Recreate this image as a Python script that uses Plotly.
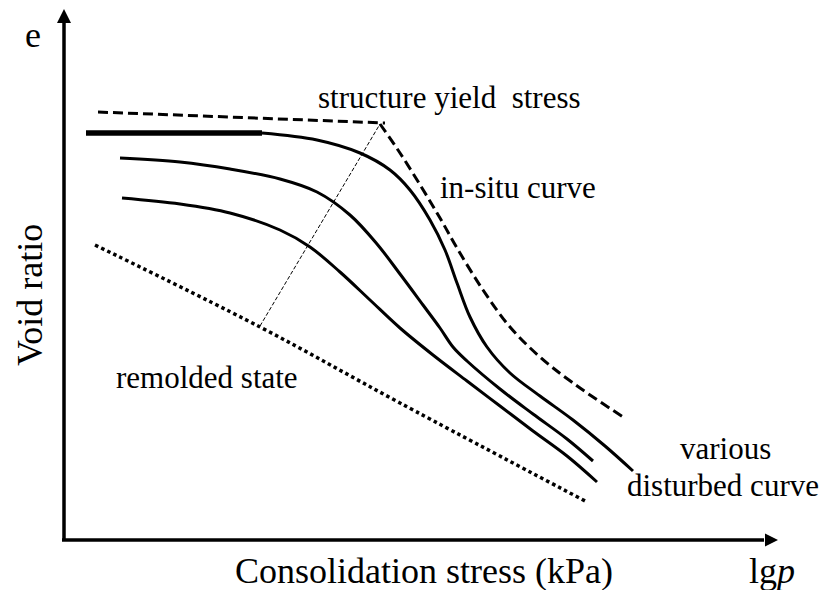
import plotly.graph_objects as go

# --- data (schematic units: x = lg p, y = void ratio e) ---
axis_y_x = [0, 0]
axis_y_y = [0, 5.2]
axis_x_x = [-0.02, 7.0]
axis_x_y = [0, 0]
arrow_up = (0, 5.31)
arrow_right = (7.14, 0)

struct_flat_x = [0.34, 3.21]
struct_flat_y = [4.28, 4.17]
struct_desc_x = [3.16, 3.36, 3.58, 3.76, 3.93, 4.19, 4.46, 4.76, 5.09, 5.59]
struct_desc_y = [4.16, 3.87, 3.52, 3.22, 2.92, 2.50, 2.13, 1.83, 1.57, 1.23]

insitu_thick_x = [0.22, 1.98]
insitu_thick_y = [4.07, 4.07]
insitu_x = [1.98, 2.53, 2.96, 3.26, 3.46, 3.66, 3.81, 3.93, 4.06, 4.23, 4.46, 4.76, 5.09, 5.41, 5.69]
insitu_y = [4.07, 4.00, 3.87, 3.70, 3.50, 3.20, 2.90, 2.57, 2.23, 1.93, 1.67, 1.44, 1.20, 0.94, 0.69]

dist1_x = [0.56, 1.16, 1.66, 2.16, 2.53, 2.86, 3.13, 3.36, 3.59, 3.76, 3.89, 4.03, 4.36, 4.69, 5.03, 5.29]
dist1_y = [3.82, 3.78, 3.71, 3.61, 3.48, 3.25, 2.96, 2.66, 2.35, 2.12, 1.93, 1.79, 1.51, 1.26, 1.01, 0.79]

dist2_x = [0.58, 1.16, 1.66, 2.16, 2.46, 2.76, 3.06, 3.36, 3.69, 4.03, 4.36, 4.69, 5.03, 5.33]
dist2_y = [3.42, 3.36, 3.27, 3.10, 2.93, 2.68, 2.40, 2.12, 1.85, 1.59, 1.34, 1.09, 0.84, 0.58]

remold_x = [0.31, 1.96, 3.36, 5.23]
remold_y = [2.95, 2.13, 1.37, 0.38]

link_x = [1.96, 3.16]
link_y = [2.14, 4.16]

labels = [
    ("e", -0.31, 5.05, 36, 0),
    ("Void ratio", -0.34, 2.45, 36, -90),
    ("Consolidation stress (kPa)", 3.60, -0.31, 36, 0),
    ("lg<i>p</i>", 7.08, -0.31, 36, 0),
    ("structure yield  stress", 3.85, 4.43, 31, 0),
    ("in-situ curve", 4.54, 3.53, 31, 0),
    ("remolded state", 1.43, 1.63, 31, 0),
    ("various", 6.61, 0.92, 31, 0),
    ("disturbed curve", 6.59, 0.55, 31, 0),
]

FONT = "Liberation Serif, Times New Roman, serif"

fig = go.Figure()

def line(x, y, width, dash="solid", shape="linear"):
    fig.add_trace(go.Scatter(x=x, y=y, mode="lines",
                             line=dict(color="black", width=width, dash=dash, shape=shape, smoothing=1.0),
                             hoverinfo="skip", showlegend=False))

# axes
line(axis_y_x, axis_y_y, 3.5)
line(axis_x_x, axis_x_y, 3.5)
fig.add_trace(go.Scatter(x=[arrow_up[0]], y=[arrow_up[1]], mode="markers",
                         marker=dict(symbol="arrow-up", size=14, color="black", line=dict(width=0)),
                         hoverinfo="skip", showlegend=False, cliponaxis=False))
fig.add_trace(go.Scatter(x=[arrow_right[0]], y=[arrow_right[1]], mode="markers",
                         marker=dict(symbol="arrow-right", size=13, color="black", line=dict(width=0)),
                         hoverinfo="skip", showlegend=False, cliponaxis=False))

# curves
line(struct_flat_x, struct_flat_y, 3, dash="10px,5px")
line(struct_desc_x, struct_desc_y, 3, dash="10px,5px", shape="spline")
line(insitu_thick_x, insitu_thick_y, 5.5)
line(insitu_x, insitu_y, 3, shape="spline")
line(dist1_x, dist1_y, 3, shape="spline")
line(dist2_x, dist2_y, 3, shape="spline")
line(remold_x, remold_y, 3.5, dash="3.5px,3.2px", shape="spline")
line(link_x, link_y, 1, dash="4px,2px")

for text, x, y, size, ang in labels:
    fig.add_annotation(x=x, y=y, text=text, showarrow=False, textangle=ang,
                       xanchor="center", yanchor="middle",
                       font=dict(family=FONT, size=size, color="black"))

fig.update_xaxes(range=[-0.64, 7.62], visible=False, showgrid=False, zeroline=False)
fig.update_yaxes(range=[-0.50, 5.40], visible=False, showgrid=False, zeroline=False)
fig.update_layout(width=826, height=590, autosize=False,
                  margin=dict(l=0, r=0, t=0, b=0, pad=0),
                  paper_bgcolor="white", plot_bgcolor="white",
                  showlegend=False)

fig.write_html("out.html", config={"displayModeBar": False},
               post_script="document.body.style.margin='0';document.body.style.overflow='hidden';")
